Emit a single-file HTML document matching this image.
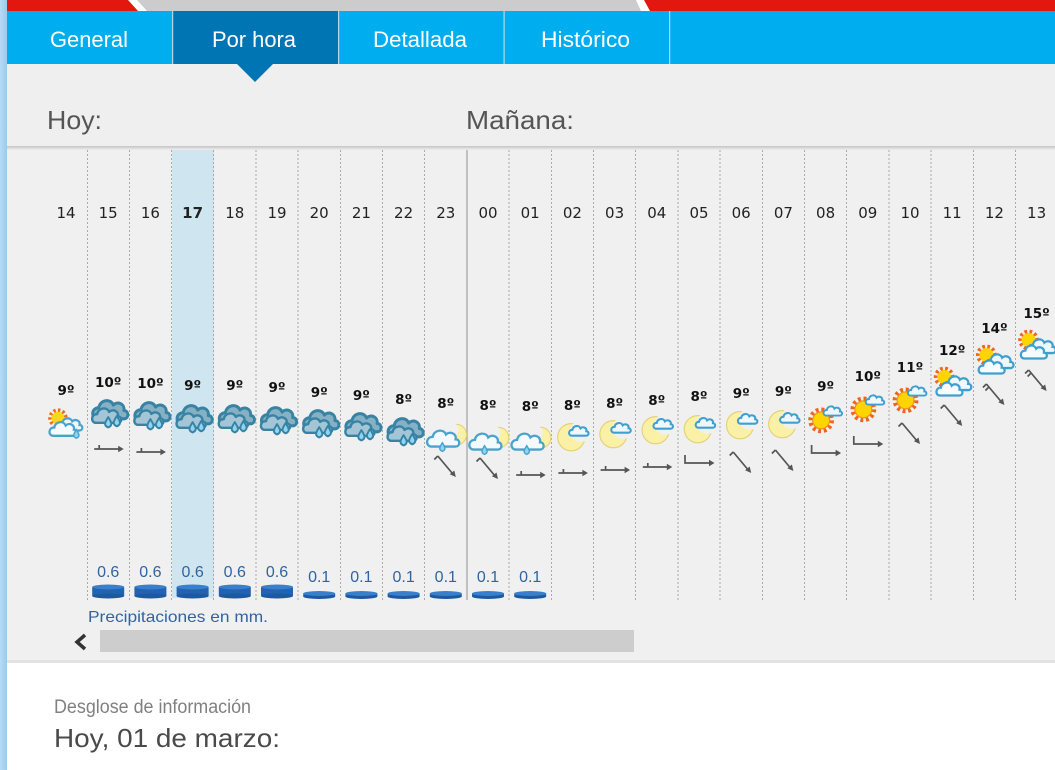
<!DOCTYPE html>
<html><head><meta charset="utf-8">
<style>
html,body{margin:0;padding:0;background:#fff;}
body{width:1055px;height:770px;overflow:hidden;position:relative;}
svg{position:absolute;left:0;top:0;}
</style></head>
<body>
<svg width="1055" height="770" viewBox="0 0 1055 770" xmlns="http://www.w3.org/2000/svg">
<defs>
 <path id="cl" d="M-9,6 C-14,6 -14,-2 -8,-2 C-7,-8 1,-9 3,-4 C6,-7 12,-5 11,0 C15,0 15,6 11,6 Z"/>
 <path id="dr" d="M0,-4 C-2.5,0 -3.5,2 0,3.5 C3.5,2 2.5,0 0,-4Z"/>
 <mask id="mk" maskUnits="userSpaceOnUse" x="-20" y="-20" width="40" height="40"><rect x="-20" y="-20" width="40" height="40" fill="#fff"/><circle cx="7" cy="-4" r="9" fill="#000"/></mask>
 <mask id="mk2" maskUnits="userSpaceOnUse" x="-20" y="-20" width="40" height="40"><rect x="-20" y="-20" width="40" height="40" fill="#fff"/><circle cx="4" cy="-6" r="7" fill="#000"/></mask>
 <linearGradient id="sh" x1="0" y1="0" x2="0" y2="1"><stop offset="0" stop-color="#c4c4c4"/><stop offset="1" stop-color="#f0f0f0"/></linearGradient>
 <linearGradient id="ls" x1="0" y1="0" x2="1" y2="0"><stop offset="0" stop-color="#b6dcf5"/><stop offset="1" stop-color="#98cbee"/></linearGradient>

 <g id="rc" stroke="#3783a3" stroke-width="2.2" stroke-linejoin="round" transform="scale(1.15)">
  <use href="#cl" transform="translate(1,-3) scale(1.15,1.2)" fill="#86b0c4"/>
  <use href="#cl" transform="translate(-2,2) scale(0.95)" fill="#a3c5d6"/>
  <use href="#dr" transform="translate(0,7.5) scale(1.2)" fill="#8fd4f3" stroke-width="1.4"/>
  <use href="#dr" transform="translate(7.5,6.5) scale(1.2)" fill="#8fd4f3" stroke-width="1.4"/>
 </g>
 <g id="sr" transform="scale(1.15)">
  <circle cx="-7" cy="-6" r="6.5" fill="none" stroke="#f26b1d" stroke-width="4" stroke-dasharray="2 1.8"/>
  <circle cx="-7" cy="-6" r="5.5" fill="#ffd51c"/>
  <use href="#cl" transform="translate(3,0) scale(0.8)" fill="#eef7fb" stroke="#4aa3cc" stroke-width="2.4"/>
  <use href="#cl" transform="translate(-3,4) scale(0.9)" fill="#f6fbfd" stroke="#4aa3cc" stroke-width="2.2"/>
  <use href="#dr" transform="translate(9,8)" fill="#8fd4f3" stroke="#4aa3cc" stroke-width="1.3"/>
 </g>
 <g id="nr" transform="scale(1.15)">
  <circle cx="9" cy="-2" r="9" fill="#faf1a6" stroke="#e4d27a" stroke-width="1" mask="url(#mk2)"/>
  <use href="#cl" transform="translate(-3,2) scale(1.05)" fill="#f3f9fd" stroke="#4aa3cc" stroke-width="1.9"/>
  <use href="#dr" transform="translate(-3,9)" fill="#8fd4f3" stroke="#4aa3cc" stroke-width="1.3"/>
 </g>
 <g id="mn" transform="scale(1.18)">
  <circle cx="-1" cy="1" r="11.5" fill="#faf1a6" stroke="#e4d27a" stroke-width="1" mask="url(#mk)"/>
  <use href="#cl" transform="translate(5,-4) scale(0.62)" fill="#eef7fc" stroke="#3f9fd0" stroke-width="2.8"/>
 </g>
 <g id="sn" transform="scale(1.12)">
  <circle cx="-4" cy="3" r="9" fill="none" stroke="#f0641c" stroke-width="5" stroke-dasharray="2.4 2.3"/>
  <circle cx="-4" cy="3" r="7.5" fill="#ffd400" stroke="#f5901c" stroke-width="1"/>
  <use href="#cl" transform="translate(6,-5) scale(0.62)" fill="#eef7fc" stroke="#3f9fd0" stroke-width="2.8"/>
 </g>
 <g id="pc" transform="scale(1.15)">
  <circle cx="-7" cy="-7" r="7" fill="none" stroke="#f0641c" stroke-width="4" stroke-dasharray="2.2 2"/>
  <circle cx="-7" cy="-7" r="6" fill="#ffd400"/>
  <use href="#cl" transform="translate(4,-1) scale(0.9)" fill="#eef7fc" stroke="#3f9fd0" stroke-width="2.2"/>
  <use href="#cl" transform="translate(-3,4) scale(0.85)" fill="#f6fbfe" stroke="#3f9fd0" stroke-width="2.3"/>
 </g>

 <g id="wh">
  <path d="M-14,0 H11 M-9,0 V-4" stroke="#555" stroke-width="1.7" fill="none"/>
  <path d="M10,-3.2 L15.5,0 L10,3.2Z" fill="#555"/>
 </g>
 <g id="wb">
  <path d="M-14,-8 V0 H11" stroke="#555" stroke-width="1.7" fill="none"/>
  <path d="M10,-3.2 L15.5,0 L10,3.2Z" fill="#555"/>
 </g>
 <g id="wd">
  <path d="M-8,-10 L7.5,8.5 M-8,-10 L-11.5,-6.5" stroke="#555" stroke-width="1.7" fill="none"/>
  <path d="M10,11 L8.5,4.5 L3.9,8.3Z" fill="#555"/>
 </g>
 <g id="wdd">
  <path d="M-8,-10 L7.5,8.5 M-8,-10 L-11.5,-6.5 M-5.5,-7 L-9,-3.5" stroke="#555" stroke-width="1.7" fill="none"/>
  <path d="M10,11 L8.5,4.5 L3.9,8.3Z" fill="#555"/>
 </g>

 <g id="d6"><rect x="-16" y="-5" width="32" height="9" fill="#2362b0"/><ellipse cx="0" cy="4" rx="16" ry="2.5" fill="#1d58a0"/><ellipse cx="0" cy="-5" rx="16" ry="2.5" fill="#3a7fcc"/></g>
 <g id="d1"><rect x="-16" y="-1.5" width="32" height="3" fill="#2362b0"/><ellipse cx="0" cy="1.5" rx="16" ry="2.5" fill="#1d58a0"/><ellipse cx="0" cy="-1.5" rx="16" ry="2.5" fill="#3a7fcc"/></g>
</defs>

<!-- top strip -->
<rect x="0" y="0" width="1055" height="11" fill="#fff"/>
<polygon points="0,0 128,0 138,11 0,11" fill="#e2170f"/>
<polygon points="137,0 636,0 641,11 147,11" fill="#cccccc"/>
<polygon points="644,0 1055,0 1055,11 650,11" fill="#e2170f"/>

<!-- tab bar -->
<rect x="7" y="11" width="1048" height="53" fill="#00aeef"/>
<rect x="173" y="11" width="165" height="53" fill="#0075b4"/>
<g fill="#b4d6e8"><rect x="172" y="11" width="1.2" height="53"/><rect x="338" y="11" width="1.2" height="53"/><rect x="503.5" y="11" width="1.2" height="53"/><rect x="669" y="11" width="1.2" height="53"/></g>
<g font-family="Liberation Sans, sans-serif" font-size="22" fill="#fff">
 <text x="50" y="47" textLength="78" lengthAdjust="spacingAndGlyphs">General</text>
 <text x="212" y="47" textLength="84" lengthAdjust="spacingAndGlyphs">Por hora</text>
 <text x="373" y="47" textLength="94" lengthAdjust="spacingAndGlyphs">Detallada</text>
 <text x="541" y="47" textLength="89" lengthAdjust="spacingAndGlyphs">Histórico</text>
</g>

<!-- header panel -->
<rect x="7" y="64" width="1048" height="84" fill="#efefef"/>
<polygon points="237,64 273,64 255,82" fill="#0075b4"/>
<g font-family="Liberation Sans, sans-serif" font-size="26" fill="#555">
 <text x="47" y="129" textLength="55" lengthAdjust="spacingAndGlyphs">Hoy:</text>
 <text x="466" y="129" textLength="108" lengthAdjust="spacingAndGlyphs">Mañana:</text>
</g>

<!-- chart panel -->
<rect x="7" y="147" width="1048" height="515" fill="#f0f0f0"/>
<rect x="7" y="146" width="1048" height="4" fill="url(#sh)"/>
<rect x="172" y="150" width="42" height="448" fill="#cfe6f0"/>

<g stroke="#a9a9a9" stroke-width="1" stroke-dasharray="2 2">
 <line x1="87.5" y1="150" x2="87.5" y2="600"/>
 <line x1="129.5" y1="150" x2="129.5" y2="600"/>
 <line x1="171.5" y1="150" x2="171.5" y2="600"/>
 <line x1="213.5" y1="150" x2="213.5" y2="600"/>
 <line x1="256" y1="150" x2="256" y2="600"/>
 <line x1="298" y1="150" x2="298" y2="600"/>
 <line x1="340.5" y1="150" x2="340.5" y2="600"/>
 <line x1="382.5" y1="150" x2="382.5" y2="600"/>
 <line x1="424.5" y1="150" x2="424.5" y2="600"/>
 <line x1="509" y1="150" x2="509" y2="600"/>
 <line x1="551.5" y1="150" x2="551.5" y2="600"/>
 <line x1="593.5" y1="150" x2="593.5" y2="600"/>
 <line x1="635.5" y1="150" x2="635.5" y2="600"/>
 <line x1="678" y1="150" x2="678" y2="600"/>
 <line x1="720" y1="150" x2="720" y2="600"/>
 <line x1="762.5" y1="150" x2="762.5" y2="600"/>
 <line x1="804.5" y1="150" x2="804.5" y2="600"/>
 <line x1="846.5" y1="150" x2="846.5" y2="600"/>
 <line x1="889" y1="150" x2="889" y2="600"/>
 <line x1="931" y1="150" x2="931" y2="600"/>
 <line x1="973.5" y1="150" x2="973.5" y2="600"/>
 <line x1="1015.5" y1="150" x2="1015.5" y2="600"/>
</g>
<line x1="467" y1="150" x2="467" y2="600" stroke="#a0a0a0" stroke-width="1.2"/>

<!-- hours -->
<g font-family="DejaVu Sans, Verdana, sans-serif" font-size="15" fill="#222" text-anchor="middle">
 <text x="66" y="218">14</text><text x="108.2" y="218">15</text><text x="150.4" y="218">16</text>
 <text x="192.6" y="218" font-weight="bold">17</text><text x="234.8" y="218">18</text><text x="277" y="218">19</text>
 <text x="319.2" y="218">20</text><text x="361.4" y="218">21</text><text x="403.6" y="218">22</text>
 <text x="445.8" y="218">23</text><text x="488" y="218">00</text><text x="530.2" y="218">01</text>
 <text x="572.4" y="218">02</text><text x="614.6" y="218">03</text><text x="656.8" y="218">04</text>
 <text x="699" y="218">05</text><text x="741.2" y="218">06</text><text x="783.4" y="218">07</text>
 <text x="825.6" y="218">08</text><text x="867.8" y="218">09</text><text x="910" y="218">10</text>
 <text x="952.2" y="218">11</text><text x="994.4" y="218">12</text><text x="1036.6" y="218">13</text>
</g>

<!-- temps -->
<g font-family="DejaVu Sans, Verdana, sans-serif" font-size="13.5" font-weight="bold" fill="#111" text-anchor="middle">
 <text x="66" y="395">9º</text><text x="108.2" y="387">10º</text><text x="150.4" y="388">10º</text>
 <text x="192.6" y="390">9º</text><text x="234.8" y="390">9º</text><text x="277" y="392">9º</text>
 <text x="319.2" y="397">9º</text><text x="361.4" y="400">9º</text><text x="403.6" y="404">8º</text>
 <text x="445.8" y="408">8º</text><text x="488" y="410">8º</text><text x="530.2" y="411">8º</text>
 <text x="572.4" y="410">8º</text><text x="614.6" y="408">8º</text><text x="656.8" y="405">8º</text>
 <text x="699" y="401">8º</text><text x="741.2" y="398">9º</text><text x="783.4" y="396">9º</text>
 <text x="825.6" y="391">9º</text><text x="867.8" y="381">10º</text><text x="910" y="372">11º</text>
 <text x="952.2" y="355">12º</text><text x="994.4" y="333">14º</text><text x="1036.6" y="318">15º</text>
</g>

<!-- icons -->
<use href="#sr" x="66" y="425"/>
<use href="#rc" x="108.2" y="414"/>
<use href="#rc" x="150.4" y="416"/>
<use href="#rc" x="192.6" y="419"/>
<use href="#rc" x="234.8" y="419"/>
<use href="#rc" x="277" y="421"/>
<use href="#rc" x="319.2" y="424"/>
<use href="#rc" x="361.4" y="427"/>
<use href="#rc" x="403.6" y="432"/>
<use href="#nr" x="445.8" y="437"/>
<use href="#nr" x="488" y="440"/>
<use href="#nr" x="530.2" y="440"/>
<use href="#mn" x="572.4" y="436"/>
<use href="#mn" x="614.6" y="433"/>
<use href="#mn" x="656.8" y="429"/>
<use href="#mn" x="699" y="428"/>
<use href="#mn" x="741.2" y="424"/>
<use href="#mn" x="783.4" y="423"/>
<use href="#sn" x="825.6" y="417"/>
<use href="#sn" x="867.8" y="406"/>
<use href="#sn" x="910" y="397"/>
<use href="#pc" x="952.2" y="385"/>
<use href="#pc" x="994.4" y="363"/>
<use href="#pc" x="1036.6" y="348"/>

<!-- wind -->
<use href="#wh" x="108.2" y="449"/>
<use href="#wh" x="150.4" y="452"/>
<use href="#wd" x="445.8" y="466"/>
<use href="#wd" x="488" y="468"/>
<use href="#wh" x="530.2" y="475"/>
<use href="#wh" x="572.4" y="473"/>
<use href="#wh" x="614.6" y="470"/>
<use href="#wh" x="656.8" y="467"/>
<use href="#wb" x="699" y="463"/>
<use href="#wd" x="741.2" y="462"/>
<use href="#wd" x="783.4" y="460"/>
<use href="#wb" x="825.6" y="453"/>
<use href="#wb" x="867.8" y="444"/>
<use href="#wd" x="910" y="433"/>
<use href="#wd" x="952.2" y="415"/>
<use href="#wdd" x="994.4" y="394"/>
<use href="#wdd" x="1036.6" y="380"/>

<!-- precipitation -->
<g font-family="Liberation Sans, sans-serif" font-size="16" fill="#2f64a0" text-anchor="middle">
 <text x="108.2" y="577">0.6</text><text x="150.4" y="577">0.6</text><text x="192.6" y="577">0.6</text>
 <text x="234.8" y="577">0.6</text><text x="277" y="577">0.6</text>
 <text x="319.2" y="582">0.1</text><text x="361.4" y="582">0.1</text><text x="403.6" y="582">0.1</text>
 <text x="445.8" y="582">0.1</text><text x="488" y="582">0.1</text><text x="530.2" y="582">0.1</text>
</g>
<use href="#d6" x="108.2" y="592"/><use href="#d6" x="150.4" y="592"/><use href="#d6" x="192.6" y="592"/>
<use href="#d6" x="234.8" y="592"/><use href="#d6" x="277" y="592"/>
<use href="#d1" x="319.2" y="595"/><use href="#d1" x="361.4" y="595"/><use href="#d1" x="403.6" y="595"/>
<use href="#d1" x="445.8" y="595"/><use href="#d1" x="488" y="595"/><use href="#d1" x="530.2" y="595"/>
<text x="88" y="622" font-family="Liberation Sans, sans-serif" font-size="16" fill="#2f64a0" textLength="180" lengthAdjust="spacingAndGlyphs">Precipitaciones en mm.</text>

<!-- scrollbar -->
<path d="M85,635 L77,642 L85,649" stroke="#333" stroke-width="3.5" fill="none"/>
<rect x="100" y="630" width="534" height="22" fill="#cdcdcd"/>

<!-- bottom -->
<rect x="7" y="660" width="1048" height="110" fill="#fff"/>
<rect x="7" y="660" width="1048" height="3" fill="#e2e2e2"/>
<text x="54" y="713" font-family="Liberation Sans, sans-serif" font-size="19" fill="#808080" textLength="197" lengthAdjust="spacingAndGlyphs">Desglose de información</text>
<text x="54" y="747" font-family="Liberation Sans, sans-serif" font-size="26" fill="#4a4a4a" textLength="226" lengthAdjust="spacingAndGlyphs">Hoy, 01 de marzo:</text>

<!-- left strip -->
<rect x="0" y="0" width="7" height="770" fill="url(#ls)"/>
</svg>
</body></html>
